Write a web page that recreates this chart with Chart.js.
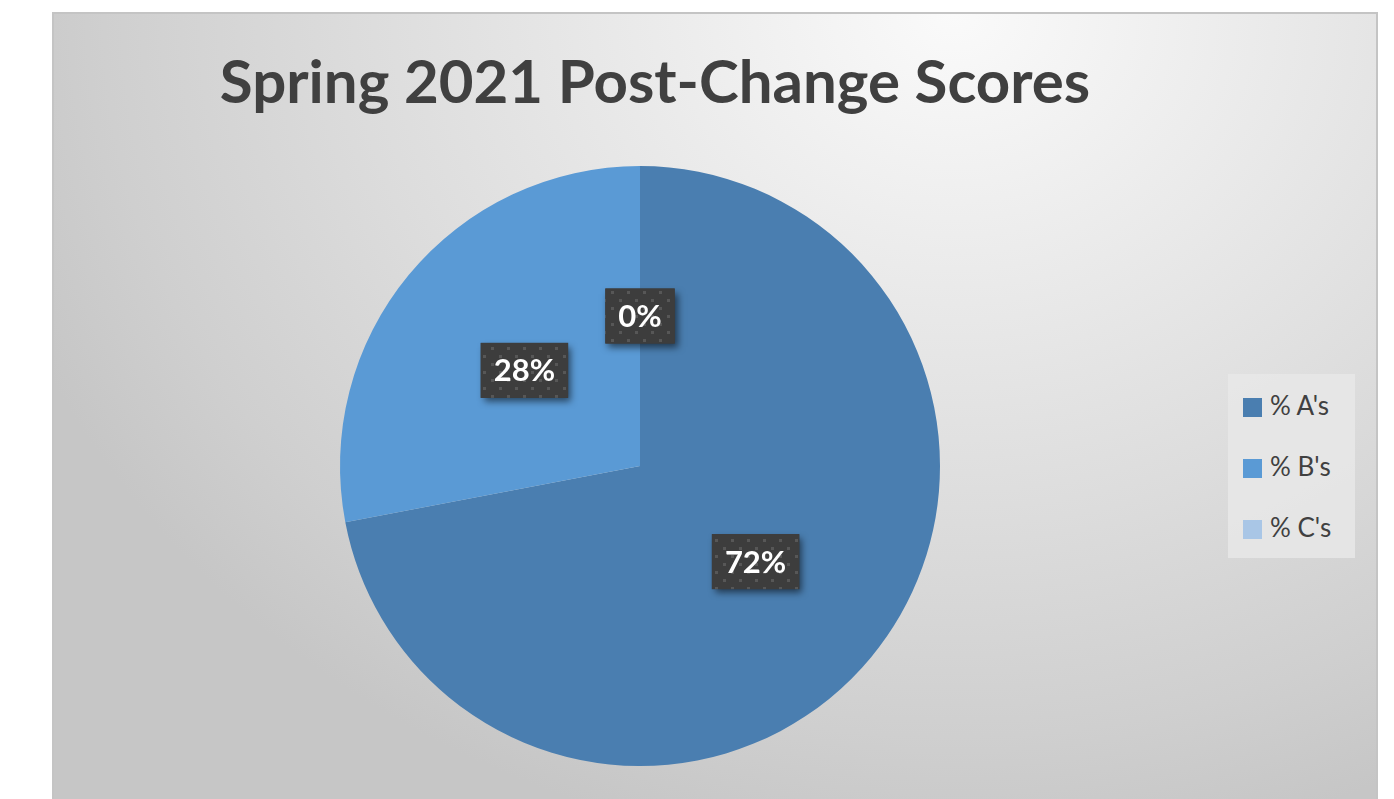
<!DOCTYPE html>
<html><head><meta charset="utf-8">
<script src="https://cdn.jsdelivr.net/npm/chart.js@4.4.1/dist/chart.umd.min.js"></script>
<style>
html,body{margin:0;padding:0;width:1394px;height:799px;background:#fff;overflow:hidden;}
#panel{position:absolute;left:52px;top:12px;width:1326px;height:800px;box-sizing:border-box;border:2px solid #c4c4c4;border-bottom:none;
 background:radial-gradient(ellipse 1000px 850px at 900px 0px,#fafafa 0%,#ebebeb 30%,#dcdcdc 60%,#cfcfcf 85%,#c6c6c6 100%);}
#title{position:absolute;left:0;top:44px;width:1310px;text-align:center;font:bold 60px Lato, "Open Sans", sans-serif;color:#404040;white-space:nowrap;}
#legend{position:absolute;left:1228px;top:374px;width:127px;height:184px;background:rgba(232,232,232,0.85);font:26px Lato,"Open Sans",sans-serif;color:#404040;}
.li{position:absolute;left:15px;height:26px;line-height:26px;}
.sw{display:inline-block;width:19px;height:19px;vertical-align:-2px;margin-right:8px;}
canvas{position:absolute;left:0;top:0;}
</style></head>
<body>
<div id="panel"></div>
<div id="title">Spring 2021 Post-Change Scores</div>
<div id="legend"></div>
<canvas id="c" width="1394" height="799"></canvas>
<script>
const categories = ["% A's", "% B's", "% C's"];
const values = [72, 28, 0];
const labelsText = ["72%", "28%", "0%"];
const colors = ["#4a7eb0", "#5a9ad5", "#a9c6e6"];

// legend
const lg = document.getElementById('legend');
categories.forEach((c,i)=>{
  const d=document.createElement('div');d.className='li';d.style.top=(18+i*61)+'px';
  d.innerHTML='<span class="sw" style="background:'+colors[i]+'"></span>'+c;
  lg.appendChild(d);
});

function makePattern(ctx){
  const p=document.createElement('canvas');p.width=16;p.height=16;
  const g=p.getContext('2d');g.fillStyle='#3d3d3d';g.fillRect(0,0,16,16);
  g.fillStyle='#575757';g.fillRect(3,3,3,3);g.fillRect(11,11,3,3);
  return ctx.createPattern(p,'repeat');
}

const boxLabels = {
  id:'boxLabels',
  afterDatasetsDraw(chart){
    const ctx=chart.ctx;const meta=chart.getDatasetMeta(0);
    const pat=makePattern(ctx);
    ctx.save();
    ctx.font='bold 31px Lato, "Open Sans", sans-serif';
    meta.data.forEach((arc,i)=>{
      const pos=arc.tooltipPosition();
      const t=labelsText[i];
      const w=ctx.measureText(t).width+26, h=55;
      const x=pos.x-w/2, y=pos.y-h/2;
      ctx.save();
      ctx.shadowColor='rgba(0,0,0,0.55)';ctx.shadowBlur=7;ctx.shadowOffsetX=3;ctx.shadowOffsetY=4;
      ctx.fillStyle='#3d3d3d';ctx.fillRect(x,y,w,h);
      ctx.restore();
      ctx.fillStyle=pat;ctx.fillRect(x,y,w,h);
      ctx.fillStyle='#ffffff';ctx.textAlign='center';ctx.textBaseline='middle';
      ctx.fillText(t,pos.x,pos.y+1);
    });
    ctx.restore();
  }
};

new Chart(document.getElementById('c'),{
  type:'pie',
  data:{labels:categories,datasets:[{data:values,backgroundColor:colors,borderWidth:0}]},
  options:{
    responsive:false,animation:false,
    layout:{padding:{left:340,right:454,top:166,bottom:33}},
    plugins:{legend:{display:false},tooltip:{enabled:false},title:{display:false}}
  },
  plugins:[boxLabels]
});
</script>
</body></html>
